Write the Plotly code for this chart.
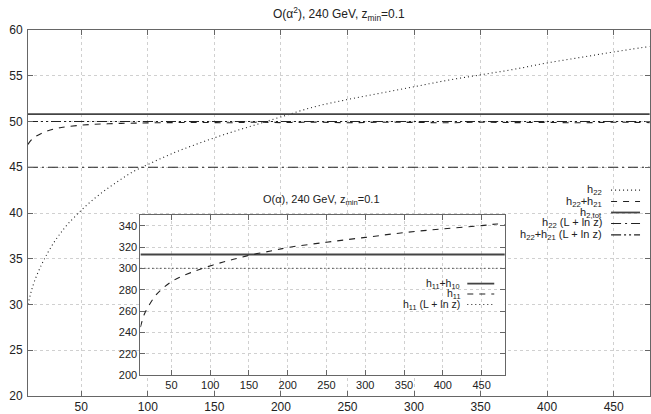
import plotly.graph_objects as go

# ---------------- data ----------------
x_main = [10, 12, 15, 20, 25, 30, 35, 40, 50, 60, 70, 80, 90, 100, 120, 140, 160, 180, 200,
          225, 250, 275, 300, 325, 350, 375, 400, 425, 450, 477]
h22 = [30.0, 31.2, 32.6, 34.3, 35.7, 36.9, 37.9, 38.8, 40.3, 41.6, 42.7, 43.7, 44.6, 45.3, 46.6,
       47.7, 48.7, 49.6, 50.5, 51.6, 52.4, 53.1, 53.8, 54.5, 55.1, 55.7, 56.4, 57.0, 57.6, 58.2]
h22_h21 = [47.5, 47.9, 48.3, 48.7, 49.0, 49.2, 49.35, 49.45, 49.6, 49.7, 49.75, 49.8, 49.82, 49.85,
           49.88, 49.9, 49.86, 49.92, 49.88, 49.93, 49.87, 49.92, 49.9, 49.86, 49.93, 49.88, 49.9,
           49.86, 49.92, 49.88]
h2_tot = 50.8
h22_L = 45.0
h22_h21_L = 50.0

x_inset = [10, 15, 20, 30, 40, 50, 60, 75, 90, 110, 130, 155, 180, 200, 250, 300, 350, 400, 450,
           470, 480]
h11 = [245, 257, 264, 275, 282, 287.5, 291.5, 296, 300, 304.5, 308.5, 313, 316.5, 319.5, 324.5,
       329, 333.5, 337, 340, 341.5, 340.8]
h11_h10 = 313.0
h11_L = 300.0

main_title = "O(α<sup>2</sup>), 240 GeV, z<sub>min</sub>=0.1"
inset_title = "O(α), 240 GeV, z<sub>min</sub>=0.1"
main_labels = ["h<sub>22</sub>", "h<sub>22</sub>+h<sub>21</sub>", "h<sub>2,tot</sub>",
               "h<sub>22</sub> (L + ln z)", "h<sub>22</sub>+h<sub>21</sub> (L + ln z)"]
inset_labels = ["h<sub>11</sub>+h<sub>10</sub>", "h<sub>11</sub>", "h<sub>11</sub> (L + ln z)"]

# ---------------- styling ----------------
W, H = 651, 414
L, R, T, B = 28, 0, 30, 16
PW, PH = W - L - R, H - T - B
FONT = "Liberation Sans, Arial, sans-serif"
INK = "#222222"
AX = "#666666"
DOT = "1px,3px"
DASH = "6px,6px"
DASHDOT = "10px,4px,2px,4px"
DASHDOTDOT = "10px,3px,2px,3px,2px,3px"


def px2x(px):
    return (px - L) / PW


def py2y(py):
    return (H - B - py) / PH


ins_x0, ins_x1 = px2x(140.6), px2x(505.6)
ins_y0, ins_y1 = py2y(377), py2y(216)

fig = go.Figure()

xr = [x_main[0], x_main[-1]]
# main traces
fig.add_trace(go.Scatter(x=x_main, y=h22, mode="lines", line=dict(color=INK, width=1.1, dash=DOT, shape="spline"),
                         xaxis="x", yaxis="y", showlegend=False))
fig.add_trace(go.Scatter(x=x_main, y=h22_h21, mode="lines", line=dict(color=INK, width=1.1, dash=DASH, shape="spline"),
                         xaxis="x", yaxis="y", showlegend=False))
fig.add_trace(go.Scatter(x=xr, y=[h2_tot, h2_tot], mode="lines", line=dict(color="#444444", width=1.8),
                         xaxis="x", yaxis="y", showlegend=False))
fig.add_trace(go.Scatter(x=xr, y=[h22_L, h22_L], mode="lines", line=dict(color=INK, width=1.1, dash=DASHDOT),
                         xaxis="x", yaxis="y", showlegend=False))
fig.add_trace(go.Scatter(x=xr, y=[h22_h21_L, h22_h21_L], mode="lines", line=dict(color=INK, width=1.1, dash=DASHDOTDOT),
                         xaxis="x", yaxis="y", showlegend=False))

# inset traces
xi = [x_inset[0], x_inset[-1]]
fig.add_trace(go.Scatter(x=xi, y=[h11_h10, h11_h10], mode="lines", line=dict(color="#444444", width=1.8),
                         xaxis="x2", yaxis="y2", showlegend=False))
fig.add_trace(go.Scatter(x=x_inset, y=h11, mode="lines", line=dict(color=INK, width=1.1, dash=DASH, shape="spline"),
                         xaxis="x2", yaxis="y2", showlegend=False))
fig.add_trace(go.Scatter(x=xi, y=[h11_L, h11_L], mode="lines", line=dict(color=INK, width=1.1, dash=DOT),
                         xaxis="x2", yaxis="y2", showlegend=False))

axis_common = dict(showline=True, linecolor=AX, linewidth=1, mirror="allticks", ticks="inside",
                   ticklen=5, tickcolor=AX, showgrid=True, gridcolor="#d0d0d0", griddash="dot",
                   gridwidth=1, zeroline=False, tickfont=dict(family=FONT, size=12, color=INK))

main_xmax = 10 + PW / (533.3 / 400)
fig.update_layout(
    width=W, height=H,
    margin=dict(l=L, r=R, t=T, b=B),
    paper_bgcolor="white", plot_bgcolor="white",
    font=dict(family=FONT, size=12, color=INK),
    xaxis=dict(domain=[0, 1], range=[10, main_xmax], tick0=0, dtick=50, anchor="y", **axis_common),
    yaxis=dict(domain=[0, 1], range=[20, 60], tick0=0, dtick=5, anchor="x", ticklabelstandoff=2, **axis_common),
    xaxis2=dict(domain=[ins_x0, ins_x1], range=[10, 480], tick0=0, dtick=50, anchor="y2",
                **{**axis_common, "tickfont": dict(family=FONT, size=11, color=INK)}),
    yaxis2=dict(domain=[ins_y0, ins_y1], range=[200, 350], tick0=0, dtick=20, anchor="x2",
                **{**axis_common, "tickfont": dict(family=FONT, size=11, color=INK)}),
)

annotations = [
    dict(text=main_title, x=px2x(340), y=py2y(14), xref="paper", yref="paper", showarrow=False,
         font=dict(family=FONT, size=12, color=INK), xanchor="center", yanchor="middle"),
    dict(text=inset_title, x=px2x(322), y=py2y(201), xref="paper", yref="paper", showarrow=False,
         font=dict(family=FONT, size=11, color=INK), xanchor="center", yanchor="middle"),
]
shapes = []

main_styles = [(DOT, 1.1, INK), (DASH, 1.1, INK), ("solid", 1.8, "#444444"), (DASHDOT, 1.1, INK),
               (DASHDOTDOT, 1.1, INK)]
main_ys = [191, 202.5, 213.5, 224.5, 236]
for lab, (d, w, c), yy in zip(main_labels, main_styles, main_ys):
    annotations.append(dict(text=lab, x=px2x(605), y=py2y(yy), xref="paper", yref="paper", showarrow=False,
                            xanchor="right", yanchor="middle", font=dict(family=FONT, size=11, color=INK)))
    shapes.append(dict(type="line", xref="paper", yref="paper", x0=px2x(612), x1=px2x(641),
                       y0=py2y(yy), y1=py2y(yy), line=dict(color=c, width=w, dash=d)))

inset_styles = [("solid", 1.8, "#444444"), (DASH, 1.1, INK), (DOT, 1.1, INK)]
inset_ys = [285, 295.5, 306]
for lab, (d, w, c), yy in zip(inset_labels, inset_styles, inset_ys):
    annotations.append(dict(text=lab, x=px2x(463), y=py2y(yy), xref="paper", yref="paper", showarrow=False,
                            xanchor="right", yanchor="middle", font=dict(family=FONT, size=10.5, color=INK)))
    shapes.append(dict(type="line", xref="paper", yref="paper", x0=px2x(468), x1=px2x(495),
                       y0=py2y(yy), y1=py2y(yy), line=dict(color=c, width=w, dash=d)))

fig.update_layout(annotations=annotations, shapes=shapes)
fig.write_html("out.html")
